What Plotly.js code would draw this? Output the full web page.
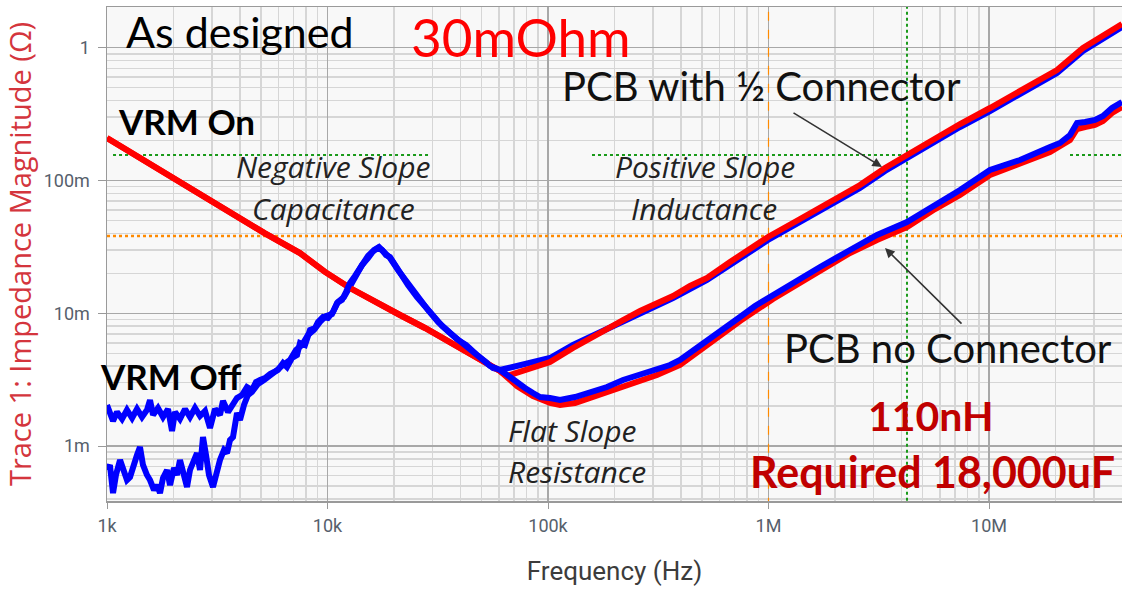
<!DOCTYPE html>
<html>
<head>
<meta charset="utf-8">
<script src="https://cdn.plot.ly/plotly-3.0.1.min.js"></script>
<style>html,body{margin:0;padding:0;background:#fff;}#chart{width:1122px;height:590px;}</style>
</head>
<body>
<div id="chart"></div>
<script>
// ---------------- data (Hz, Ohm) ----------------
// VRM On, shared low-frequency capacitive part
const redOnLowF = [1000,1272,1567,2034,2641,3613,5207,7504,9742,12648,16422,21320,27681,35937,42924,50737];
const redOnLowZ = [0.209,0.164,0.133,0.1026,0.0791,0.0579,0.0400,0.0284,0.0205,0.0155,0.01216,0.00971,0.00775,0.00608,0.0052,0.00445];

// VRM On, PCB no connector (tail)
const redNoConnF = [60572,72340,85510,102100,113350,132600,155050,185150,218900,261400,312100,396800,526200,742600,1048000,1713000,2343000,3105000,4247000,5690000,7388000,10105000,13824000,18909000,23300000,25070000,27250000,30250000,32890000,36130000,40110000];
const redNoConnZ = [0.00368,0.002836,0.002383,0.002112,0.00204,0.002112,0.002303,0.002556,0.002836,0.003146,0.00343,0.00408,0.005772,0.00875,0.01281,0.02082,0.02844,0.03565,0.04466,0.0610,0.0778,0.1100,0.1331,0.1639,0.2018,0.2442,0.2529,0.2618,0.2805,0.3223,0.3577];

// VRM On, PCB with 1/2 connector (tail)
const redHalfConnF = [60572,65180,74640,85510,102100,129800,155050,185150,218900,261400,312100,368900,440600,526200,669000,824400,994800,1390000,1842000,2600000,3376000,4247000,5690000,7388000,10105000,13824000,20340000,26690000,31870000,40110000];
const redHalfConnZ = [0.00368,0.00337,0.00361,0.00387,0.0043,0.00548,0.00652,0.00762,0.0089,0.0104,0.01195,0.0135,0.01605,0.01844,0.02433,0.03102,0.03754,0.0513,0.0665,0.0925,0.1242,0.1556,0.2053,0.2663,0.3514,0.472,0.6793,0.9948,1.183,1.508];

// VRM Off, PCB no connector
const blueNoConnF = [1000,1031,1065,1110,1170,1232,1299,1368,1441,1518,1567,1617,1703,1795,1891,1972,2034,2143,2258,2379,2507,2641,2783,2932,3089,3254,3358,3538,3728,3887,4095,4314,4545,4740,4942,5207,5486,5661,5964,6283,6552,6902,7272,7504,7906,8330,8775,9057,9541,10052,10591,11044,11636,12133,12648,13326,14043,14488,15265,15916,16945,17667,18421,19206,20235,21320,23174,25465,27681,30097,33065,35937,39070,42924,46670,50737,54574,60572,67250,72340,78640,85510,91990,102100,113350,132600,155050,185150,218900,261400,312100,357500,396800,454600,526200,602600,742600,868500,1048000,1390000,1713000,2343000,3105000,4247000,5690000,7388000,10105000,13824000,18909000,20990000,23300000,25070000,27250000,30250000,32890000,36130000,40110000];
const blueNoConnZ = [0.002039,0.001744,0.001545,0.001806,0.0016,0.00187,0.001627,0.001903,0.001656,0.00187,0.002224,0.001715,0.001936,0.001656,0.001903,0.001299,0.001806,0.0016,0.001903,0.001656,0.001936,0.001685,0.001838,0.001369,0.001903,0.001715,0.002186,0.001806,0.002112,0.002303,0.002425,0.002786,0.002645,0.003039,0.003146,0.003257,0.00349,0.003552,0.003741,0.004223,0.00394,0.004605,0.004853,0.005974,0.005772,0.007484,0.00775,0.0086,0.009378,0.009217,0.010228,0.011957,0.012596,0.014466,0.016909,0.019096,0.021935,0.024331,0.027004,0.028943,0.031015,0.029963,0.02748,0.026546,0.023099,0.02011,0.016334,0.013266,0.011154,0.009378,0.008023,0.007106,0.006294,0.005574,0.004937,0.004448,0.00401,0.003741,0.003313,0.002987,0.002739,0.002511,0.002343,0.002303,0.002224,0.002343,0.002511,0.002786,0.003146,0.00343,0.003741,0.00408,0.004448,0.005201,0.006294,0.007356,0.009378,0.01135,0.013731,0.017807,0.022316,0.029963,0.038876,0.048697,0.065388,0.084822,0.11999,0.14267,0.17878,0.19159,0.22018,0.27102,0.27575,0.2855,0.30594,0.3514,0.39001];

// VRM Off, PCB with 1/2 connector
const blueHalfConnF = [1000,1031,1065,1098,1146,1194,1232,1272,1326,1368,1411,1456,1518,1567,1634,1686,1739,1795,1872,1931,2013,2077,2143,2235,2306,2379,2481,2559,2641,2725,2812,2901,3025,3154,3254,3393,3502,3613,3728,3887,4010,4181,4359,4545,4839,5153,5486,5841,6283,6760,7196,7662,8157,8686,9248,9845,10481,11160,11882,12648,13466,14339,15265,16252,17123,18040,19206,20879,23174,25732,28563,31714,35193,39070,42478,44291,48155,52349,56315,60572,69390,85510,102100,129800,185150,261400,368900,526200,669000,824400,994800,1390000,1842000,2600000,3376000,4247000,5690000,7388000,10105000,13824000,20340000,26690000,31870000,40110000];
const blueHalfConnZ = [0.000661,0.000721,0.000443,0.000606,0.000786,0.000661,0.000555,0.000585,0.000759,0.000857,0.000984,0.000721,0.000606,0.000555,0.000467,0.000509,0.000443,0.000575,0.000661,0.000509,0.000684,0.000606,0.000786,0.000575,0.000492,0.000661,0.000786,0.000887,0.000661,0.001171,0.000857,0.000606,0.000492,0.000661,0.000786,0.000934,0.000887,0.001111,0.001171,0.001775,0.001572,0.002039,0.002425,0.002556,0.002935,0.003146,0.003371,0.003675,0.00408,0.004448,0.005292,0.005772,0.006866,0.007484,0.0086,0.009543,0.009878,0.012166,0.013266,0.01605,0.019428,0.023099,0.026086,0.029963,0.031558,0.028943,0.026086,0.021187,0.016619,0.013036,0.010588,0.0086,0.007356,0.006294,0.005772,0.005385,0.004769,0.0043,0.003873,0.003741,0.00394,0.004223,0.004605,0.005772,0.00762,0.010228,0.013036,0.017807,0.023099,0.029447,0.035645,0.048697,0.063155,0.087818,0.11791,0.14768,0.19495,0.2529,0.33368,0.44801,0.64491,0.94451,1.1233,1.432];

// reference markers
const targetZ = 0.0382;          // orange horizontal
const greenZ = 0.1556;           // green horizontal
const orangeF = 1000000;         // orange vertical
const greenF = 4247000;          // green vertical
const greenSegF = [[1065, 29470], [158300, 4247000], [23300000, 40110000]];
const fullF = [1000, 40110000];
const fullZ = [0.00035, 2.1];

const xTickVals = [1000, 10000, 100000, 1000000, 10000000];
const xTickText = ['1k', '10k', '100k', '1M', '10M'];
const yTickVals = [0.001, 0.01, 0.1, 1];
const yTickText = ['1m', '10m', '100m', '1'];

// ---------------- figure ----------------
const RED = '#ff0000', BLUE = '#0000ff';
const LW = 6;
const traces = [];
function ref(x, y, color, width, dash) {
  traces.push({x: x, y: y, mode: 'lines', hoverinfo: 'skip',
    line: {color: color, width: width, dash: dash}});
}
ref(fullF, [targetZ, targetZ], '#ff8a00', 2.5, 'dot');
ref([orangeF, orangeF], fullZ, '#ff8a00', 1.2, 'dash');
ref([greenF, greenF], fullZ, '#1a9a1a', 2, 'dot');
greenSegF.forEach(s => ref(s, [greenZ, greenZ], '#1a9a1a', 2.2, 'dot'));

function data(x, y, color) {
  traces.push({x: x, y: y, mode: 'lines', line: {color: color, width: LW}, hoverinfo: 'skip'});
}
data(redOnLowF.concat(redNoConnF), redOnLowZ.concat(redNoConnZ), RED);
data(blueHalfConnF, blueHalfConnZ, BLUE);
data(redOnLowF.concat(redHalfConnF), redOnLowZ.concat(redHalfConnZ), RED);
data(blueNoConnF, blueNoConnZ, BLUE);

// plot box (for placing labels)
const L = 107, T = 7, W = 1015, H = 494;
const px = x => (x - L) / W;
const py = y => (T + H - y) / H;
const FONT = 'Lato, "Open Sans", sans-serif';
const IFONT = '"Open Sans", sans-serif';
function label(x, y, text, size, color, family) {
  return {xref: 'paper', yref: 'paper', x: px(x), y: py(y), text: text,
    showarrow: false, xanchor: 'center', yanchor: 'middle',
    font: {family: family || FONT, size: size, color: color}};
}
const annotations = [
  label(240, 31, 'As designed', 43, '#000'),
  label(521, 36, '30mOhm', 53, '#ff0000'),
  label(186, 121, '<b>VRM On</b>', 35, '#000'),
  label(170, 376, '<b>VRM Off</b>', 35, '#000'),
  label(333, 166, '<i>Negative Slope</i>', 30, '#222', IFONT),
  label(333, 208, '<i>Capacitance</i>', 30, '#222', IFONT),
  label(705, 166, '<i>Positive Slope</i>', 30, '#222', IFONT),
  label(704, 208, '<i>Inductance</i>', 30, '#222', IFONT),
  label(572, 430, '<i>Flat Slope</i>', 30, '#222', IFONT),
  label(577, 471, '<i>Resistance</i>', 30, '#222', IFONT),
  label(761, 86, 'PCB with ½ Connector', 40, '#111'),
  label(948, 348, 'PCB no Connector', 40, '#111'),
  label(931, 415, '<b>110nH</b>', 41, '#c00000'),
  label(932, 471, '<b>Required 18,000uF</b>', 43, '#c00000'),
  {xref: 'x', yref: 'y', x: Math.log10(3272000), y: Math.log10(0.1264), text: '',
   showarrow: true, arrowhead: 2, arrowsize: 1.2, arrowwidth: 1.6, arrowcolor: '#333',
   ax: -90, ay: -55},
  {xref: 'x', yref: 'y', x: Math.log10(3376000), y: Math.log10(0.0310), text: '',
   showarrow: true, arrowhead: 2, arrowsize: 1.2, arrowwidth: 1.6, arrowcolor: '#333',
   ax: 78, ay: 77}
];

const tickFont = {family: 'Roboto, sans-serif', size: 18, color: '#56606c'};
const layout = {
  width: 1122, height: 590,
  margin: {l: L, r: 0, t: T, b: 590 - T - H},
  paper_bgcolor: '#ffffff', plot_bgcolor: '#f8f8f8',
  showlegend: false,
  xaxis: {
    type: 'log', range: [3, 3 + W / 220.5],
    tickvals: xTickVals, ticktext: xTickText,
    ticks: 'outside', ticklen: 6, tickcolor: '#999', tickwidth: 1,
    ticklabelstandoff: 2,
    showgrid: true, gridcolor: '#a8a8a8', gridwidth: 1.5,
    minor: {dtick: 'D1', showgrid: true, gridcolor: '#d6d6d6', gridwidth: 1.5, ticks: ''},
    showline: true, linecolor: '#9a9a9a', linewidth: 1.5, mirror: true,
    zeroline: false, tickfont: tickFont,
    title: {text: 'Frequency (Hz)', standoff: 26,
      font: {family: 'Roboto, sans-serif', size: 26, color: '#3c3c3c'}}
  },
  yaxis: {
    type: 'log', range: [-(T + H - 47.7) / 132.8, (47.7 - T) / 132.8],
    tickvals: yTickVals, ticktext: yTickText,
    ticks: 'outside', ticklen: 8, tickcolor: '#999', tickwidth: 1,
    ticklabelstandoff: 4,
    showgrid: true, gridcolor: '#a8a8a8', gridwidth: 1.5,
    minor: {dtick: 'D1', showgrid: true, gridcolor: '#d6d6d6', gridwidth: 1.5, ticks: ''},
    showline: true, linecolor: '#9a9a9a', linewidth: 1.5, mirror: true,
    zeroline: false, tickfont: tickFont,
    title: {text: 'Trace 1: Impedance Magnitude (Ω)', standoff: 3,
      font: {family: '"Open Sans", sans-serif', size: 29, color: '#d4353d'}}
  },
  annotations: annotations
};

Plotly.newPlot('chart', traces, layout, {staticPlot: true, displayModeBar: false});
</script>
</body>
</html>
